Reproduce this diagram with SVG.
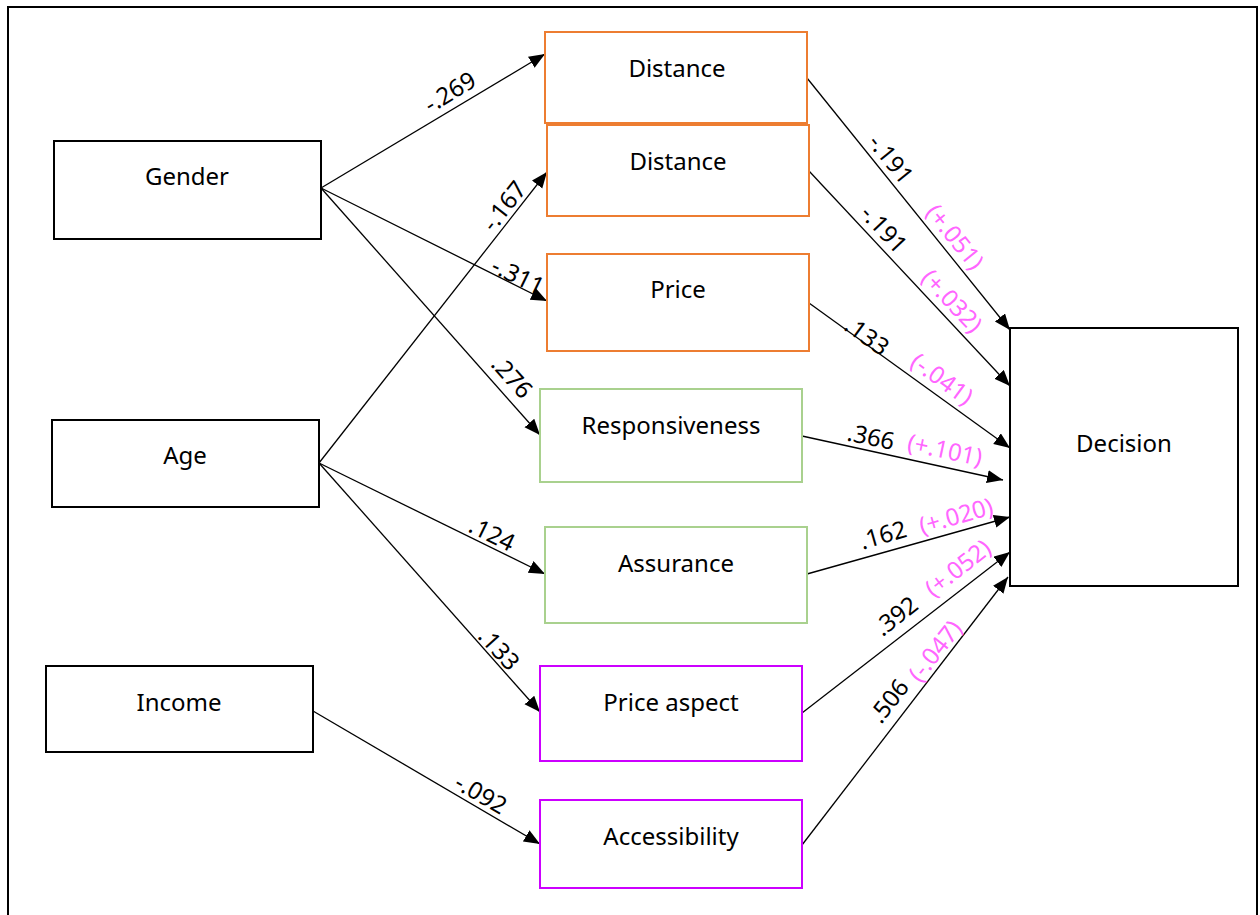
<svg xmlns="http://www.w3.org/2000/svg" width="1260" height="915" viewBox="0 0 1260 915">
<style>
.box{fill:#fff;stroke-width:2}
.blk{stroke:#000}
.org{stroke:#ED7D31}
.grn{stroke:#A9D18E}
.mag{stroke:#CC00FF}
.t{font-family:"Noto Sans","DejaVu Sans",sans-serif;font-size:24px;fill:#000;text-anchor:middle}
.l{font-family:"Noto Sans","DejaVu Sans",sans-serif;font-size:24px;fill:#000;text-anchor:middle}
.p{fill:#FF66FF}
.e{stroke:#000;stroke-width:1.3;fill:none;marker-end:url(#ah)}
</style>
<defs>
<marker id="ah" markerUnits="userSpaceOnUse" markerWidth="18" markerHeight="14" refX="16" refY="6.5" orient="auto">
<path d="M0,0 L16,6.5 L0,13 Z" fill="#000"/>
</marker>
</defs>
<rect x="0" y="0" width="1260" height="915" fill="#fff"/>
<rect x="8" y="7" width="1249" height="930" fill="none" stroke="#000" stroke-width="2"/>

<g id="connectors">
<line class="e" x1="321" y1="188" x2="545" y2="54"/>
<line class="e" x1="321" y1="188" x2="547" y2="301"/>
<line class="e" x1="321" y1="188" x2="540" y2="435"/>
<line class="e" x1="319" y1="463" x2="547" y2="172"/>
<line class="e" x1="319" y1="463" x2="545" y2="574"/>
<line class="e" x1="319" y1="463" x2="540" y2="712"/>
<line class="e" x1="313" y1="711" x2="540" y2="844"/>
<line class="e" x1="807" y1="78" x2="1010" y2="330"/>
<line class="e" x1="809" y1="171" x2="1010" y2="386"/>
<line class="e" x1="809" y1="303" x2="1010" y2="448"/>
<line class="e" x1="802" y1="436" x2="1003" y2="480"/>
<line class="e" x1="807" y1="574" x2="1010" y2="517"/>
<line class="e" x1="802" y1="713" x2="1010" y2="552"/>
<line class="e" x1="802" y1="845" x2="1008" y2="577"/>

<text class="l" transform="translate(450,92) rotate(-31)" dy=".35em">-.269</text>
<text class="l" transform="translate(504,206) rotate(-52)" dy=".35em">-.167</text>
<text class="l" transform="translate(518,276) rotate(26)" dy=".35em">-.311</text>
<text class="l" transform="translate(512,377) rotate(48)" dy=".35em">.276</text>
<text class="l" transform="translate(492,534) rotate(26)" dy=".35em">.124</text>
<text class="l" transform="translate(499,649) rotate(48)" dy=".35em">.133</text>
<text class="l" transform="translate(481,794) rotate(30)" dy=".35em">-.092</text>

<text class="l" transform="translate(891,159) rotate(51)" dy=".35em">-.191</text>
<text class="l p" transform="translate(955,237) rotate(51)" dy=".35em">(+.051)</text>
<text class="l" transform="translate(884,229) rotate(47)" dy=".35em">-.191</text>
<text class="l p" transform="translate(952,301) rotate(47)" dy=".35em">(+.032)</text>
<text class="l" transform="translate(867,336) rotate(36)" dy=".35em">.133</text>
<text class="l p" transform="translate(942,379) rotate(36)" dy=".35em">(-.041)</text>
<text class="l" transform="translate(871,437) rotate(12)" dy=".35em">.366</text>
<text class="l p" transform="translate(945,450) rotate(12)" dy=".35em">(+.101)</text>
<text class="l" transform="translate(883,535) rotate(-16)" dy=".35em">.162</text>
<text class="l p" transform="translate(956,516) rotate(-16)" dy=".35em">(+.020)</text>
<text class="l" transform="translate(896,616) rotate(-38)" dy=".35em">.392</text>
<text class="l p" transform="translate(958,568) rotate(-38)" dy=".35em">(+.052)</text>
<text class="l" transform="translate(889,701) rotate(-52)" dy=".35em">.506</text>
<text class="l p" transform="translate(935,651) rotate(-52)" dy=".35em">(-.047)</text>
</g>

<g id="gender"><rect class="box blk" x="54" y="141" width="267" height="98"/><text class="t" x="187" y="185">Gender</text></g>
<g id="age"><rect class="box blk" x="52" y="420" width="267" height="87"/><text class="t" x="185" y="464">Age</text></g>
<g id="income"><rect class="box blk" x="46" y="666" width="267" height="86"/><text class="t" x="179" y="711">Income</text></g>
<g id="distance1"><rect class="box org" x="545" y="32" width="262" height="91"/><text class="t" x="677" y="77">Distance</text></g>
<g id="distance2"><rect class="box org" x="547" y="125" width="262" height="91"/><text class="t" x="678" y="170">Distance</text></g>
<g id="price"><rect class="box org" x="547" y="254" width="262" height="97"/><text class="t" x="678" y="298">Price</text></g>
<g id="responsiveness"><rect class="box grn" x="540" y="389" width="262" height="93"/><text class="t" x="671" y="434">Responsiveness</text></g>
<g id="assurance"><rect class="box grn" x="545" y="527" width="262" height="96"/><text class="t" x="676" y="572">Assurance</text></g>
<g id="price-aspect"><rect class="box mag" x="540" y="666" width="262" height="95"/><text class="t" x="671" y="711">Price aspect</text></g>
<g id="accessibility"><rect class="box mag" x="540" y="800" width="262" height="88"/><text class="t" x="671" y="845">Accessibility</text></g>
<g id="decision"><rect class="box blk" x="1010" y="328" width="228" height="258"/><text class="t" x="1124" y="452">Decision</text></g>
</svg>
